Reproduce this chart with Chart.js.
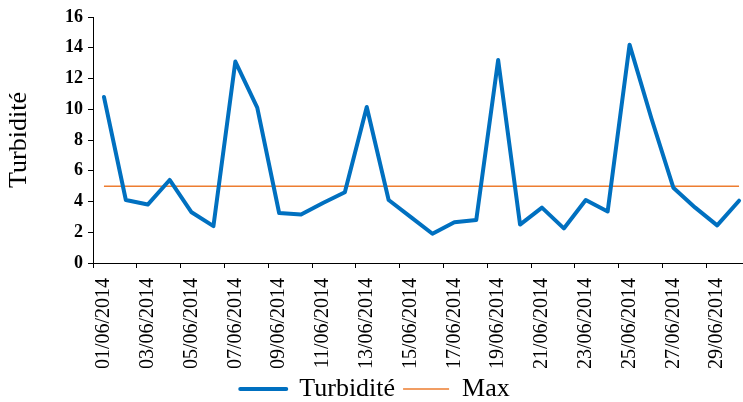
<!DOCTYPE html>
<html>
<head>
<meta charset="utf-8">
<script src="https://cdn.jsdelivr.net/npm/chart.js@4.4.1/dist/chart.umd.min.js"></script>
<style>
  html, body { margin: 0; padding: 0; overflow: hidden; background: #fff; }
  #wrap { position: relative; width: 750px; height: 412px; }
</style>
</head>
<body>
<div id="wrap"><canvas id="c"></canvas></div>
<script>
const dates = [
  "01/06/2014","02/06/2014","03/06/2014","04/06/2014","05/06/2014","06/06/2014",
  "07/06/2014","08/06/2014","09/06/2014","10/06/2014","11/06/2014","12/06/2014",
  "13/06/2014","14/06/2014","15/06/2014","16/06/2014","17/06/2014","18/06/2014",
  "19/06/2014","20/06/2014","21/06/2014","22/06/2014","23/06/2014","24/06/2014",
  "25/06/2014","26/06/2014","27/06/2014","28/06/2014","29/06/2014","30/06/2014"
];
const turbidite = [
  10.8, 4.1, 3.8, 5.4, 3.3, 2.4, 13.1, 10.1, 3.25, 3.15,
  3.9, 4.6, 10.15, 4.1, 3.0, 1.9, 2.65, 2.8, 13.2, 2.5,
  3.6, 2.25, 4.1, 3.35, 14.2, 9.4, 4.9, 3.6, 2.45, 4.05
];
const maxValues = [
  5, 5, 5, 5, 5, 5, 5, 5, 5, 5, 5, 5, 5, 5, 5,
  5, 5, 5, 5, 5, 5, 5, 5, 5, 5, 5, 5, 5, 5, 5
];
const yTicks = [0, 2, 4, 6, 8, 10, 12, 14, 16];

const serif = "'Liberation Serif', 'Times New Roman', serif";

new Chart(document.getElementById('c'), {
  type: 'line',
  data: {
    labels: dates,
    datasets: [
      {
        label: 'Turbidité',
        data: turbidite,
        borderColor: '#0070C0',
        backgroundColor: '#0070C0',
        borderWidth: 4,
        pointRadius: 0,
        tension: 0,
        borderJoinStyle: 'round',
        borderCapStyle: 'round'
      },
      {
        label: 'Max',
        data: maxValues,
        borderColor: '#ED7D31',
        backgroundColor: '#ED7D31',
        borderWidth: 1.5,
        pointRadius: 0,
        tension: 0
      }
    ]
  },
  options: {
    responsive: true,
    maintainAspectRatio: false,
    animation: false,
    layout: { padding: { top: 17, left: 0, right: 0, bottom: 0 } },
    plugins: {
      tooltip: { enabled: false },
      legend: {
        position: 'bottom',
        labels: {
          font: { family: serif, size: 26 },
          color: '#000',
          boxWidth: 46,
          boxHeight: 0,
          padding: 8
        }
      }
    },
    scales: {
      x: {
        offset: true,
        grid: {
          display: true,
          drawOnChartArea: false,
          offset: true,
          tickLength: 5,
          tickColor: (ctx) => (ctx.index % 2 === 0 ? '#000' : 'rgba(0,0,0,0)')
        },
        border: { display: true, color: '#000', width: 1 },
        ticks: {
          autoSkip: false,
          maxRotation: 90,
          minRotation: 90,
          padding: 10,
          color: '#000',
          font: { family: serif, size: 20 },
          callback: function (value, index) {
            return index % 2 === 0 ? dates[index] : '';
          }
        },
        afterFit: (scale) => {
          scale.height = 105;
          scale.paddingLeft = 0;
          scale.paddingRight = 0;
        }
      },
      y: {
        min: 0,
        max: 16,
        afterBuildTicks: (scale) => { scale.ticks = yTicks.map(v => ({ value: v })); },
        grid: {
          display: true,
          drawOnChartArea: false,
          tickLength: 5,
          tickColor: '#000'
        },
        border: { display: true, color: '#000', width: 1 },
        ticks: {
          padding: 5,
          color: '#000',
          font: { family: serif, size: 18, weight: 'bold' }
        },
        title: {
          display: true,
          text: 'Turbidité',
          color: '#000',
          font: { family: serif, size: 26 },
          padding: { top: 4, bottom: 0 }
        },
        afterFit: (scale) => { scale.width = 93; }
      }
    }
  }
});
</script>
</body>
</html>
